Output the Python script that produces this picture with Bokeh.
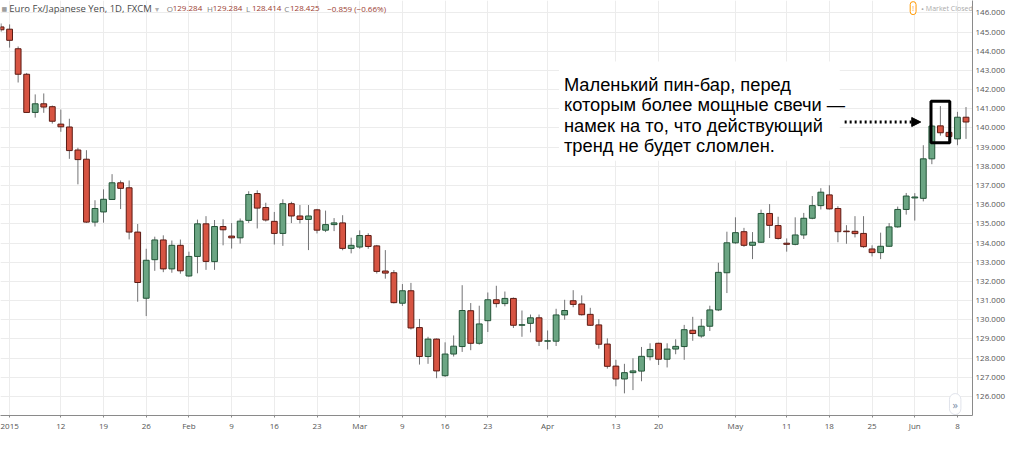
import pandas as pd
from bokeh.plotting import figure
from bokeh.models import (Range1d, FixedTicker, PrintfTickFormatter, Label, Arrow,
                          NormalHead, ColumnDataSource, BoxAnnotation)
from bokeh.embed import file_html
from bokeh.resources import INLINE

# ---------------- data (EUR/JPY daily, Dec 31 2014 .. Jun 9 2015) ----------------
opens = [145.27,
         145.15, 144.13, 142.80, 140.81, 141.26, 141.11, 140.20, 140.05, 138.85, 138.37,
         135.09, 135.62, 136.27, 137.14, 136.88, 134.57, 131.12, 133.13, 134.16, 132.65,
         133.88, 132.28, 133.30, 135.00, 133.03, 134.86, 134.36, 134.27, 135.18, 136.58,
         135.85, 135.13, 134.50, 136.05, 135.41, 135.23, 135.73, 134.67, 134.96, 135.05,
         133.72, 133.79, 134.39, 133.85, 132.54, 132.45, 130.86, 131.51, 129.59, 128.08,
         128.99, 127.08, 128.21, 128.60, 130.47, 128.77, 129.95, 131.04, 130.84, 131.11,
         129.71, 129.81, 130.10, 128.88, 128.88, 130.25, 130.99, 130.82, 130.28, 129.73,
         128.73, 127.58, 126.91, 127.24, 127.32, 128.07, 128.77, 127.94, 128.47, 128.60,
         129.45, 129.15, 129.66, 130.51, 132.45, 134.01, 134.59, 133.88, 134.04, 135.54,
         134.91, 133.99, 133.93, 134.42, 135.29, 135.95, 136.51, 135.80, 134.62, 134.61,
         134.50, 133.69, 133.50, 133.83, 134.84, 135.75, 136.35, 136.33, 138.39, 140.11,
         139.77, 139.43, 140.56]
highs = [145.45,
         145.40, 144.25, 142.87, 141.75, 141.80, 141.17, 140.96, 140.48, 138.97, 138.84,
         136.23, 136.80, 137.59, 137.26, 137.26, 134.99, 133.70, 134.33, 134.40, 134.13,
         134.18, 133.55, 135.22, 135.40, 135.20, 135.24, 135.04, 135.28, 136.70, 136.75,
         136.10, 135.62, 136.28, 136.15, 135.98, 135.98, 135.78, 135.69, 135.30, 135.45,
         134.28, 134.66, 134.51, 133.90, 133.63, 132.59, 131.86, 131.92, 130.04, 129.11,
         129.02, 128.82, 129.18, 131.80, 130.87, 130.73, 131.42, 131.77, 131.47, 131.16,
         130.48, 130.27, 130.27, 129.44, 130.57, 131.04, 131.54, 131.27, 130.62, 130.03,
         129.03, 127.91, 127.70, 127.99, 128.58, 128.77, 128.80, 128.77, 128.98, 129.73,
         130.15, 130.04, 130.73, 132.97, 134.59, 135.34, 134.79, 134.57, 135.74, 136.03,
         135.37, 134.24, 135.34, 135.57, 136.45, 136.86, 137.01, 135.92, 134.93, 135.40,
         135.40, 133.88, 134.54, 135.04, 135.90, 136.61, 136.60, 139.10, 140.18, 141.14,
         139.80, 140.84, 141.09]
lows = [145.02,
        144.19, 142.37, 140.80, 140.54, 140.79, 140.23, 139.80, 138.39, 137.06, 135.05,
        134.86, 135.06, 136.25, 135.77, 134.19, 130.94, 130.19, 132.55, 132.48, 132.45,
        132.40, 132.24, 132.42, 132.60, 132.60, 133.88, 133.71, 133.97, 135.05, 134.76,
        135.12, 133.92, 133.85, 135.04, 135.02, 133.63, 134.50, 134.57, 134.62, 133.62,
        133.46, 133.70, 133.70, 132.41, 132.14, 130.85, 130.72, 129.49, 127.66, 127.70,
        126.95, 127.02, 128.08, 128.32, 128.41, 128.70, 129.36, 130.64, 130.70, 129.57,
        129.11, 129.34, 128.63, 128.45, 128.63, 130.00, 130.65, 130.22, 129.68, 128.49,
        127.45, 126.53, 126.16, 126.33, 126.79, 127.88, 127.64, 127.51, 128.20, 127.91,
        128.90, 129.06, 129.41, 130.45, 131.39, 133.96, 133.80, 133.16, 134.00, 134.26,
        134.18, 133.55, 133.88, 134.21, 135.24, 135.75, 135.75, 134.04, 133.96, 134.29,
        133.75, 133.30, 133.16, 133.80, 134.80, 135.48, 135.17, 136.17, 138.11, 139.60,
        139.27, 139.10, 139.43]
closes = [145.12,
          144.57, 142.80, 140.81, 141.26, 141.09, 140.35, 140.06, 138.82, 138.35, 135.09,
          135.80, 136.28, 137.14, 136.85, 134.57, 131.94, 133.10, 134.16, 132.65, 133.88,
          132.55, 133.30, 135.00, 133.04, 134.86, 134.69, 134.27, 135.14, 136.53, 135.82,
          135.20, 134.50, 136.05, 135.41, 135.23, 135.41, 134.67, 134.96, 135.05, 133.72,
          133.88, 134.39, 133.82, 132.52, 132.43, 130.89, 131.51, 129.57, 128.08, 128.99,
          127.33, 128.21, 128.62, 130.48, 128.77, 129.78, 131.04, 130.84, 131.11, 129.71,
          129.74, 130.10, 128.88, 128.90, 130.25, 130.48, 130.80, 130.26, 129.71, 128.72,
          127.57, 126.91, 127.24, 127.33, 128.09, 128.45, 127.94, 128.47, 128.61, 129.48,
          129.28, 129.66, 130.51, 132.47, 134.01, 134.54, 133.88, 134.04, 135.54, 134.92,
          134.24, 133.93, 134.42, 135.29, 135.95, 136.65, 135.78, 134.59, 134.59, 134.49,
          133.81, 133.50, 133.83, 134.84, 135.75, 136.45, 136.40, 138.39, 140.10, 139.75,
          139.55, 140.56, 140.31]

tick_dates = ["2015-01-02", "2015-01-12", "2015-01-19", "2015-01-26", "2015-02-02",
              "2015-02-09", "2015-02-16", "2015-02-23", "2015-03-02", "2015-03-09",
              "2015-03-16", "2015-03-23", "2015-04-01", "2015-04-13", "2015-04-20",
              "2015-05-01", "2015-05-11", "2015-05-18", "2015-05-25", "2015-06-01",
              "2015-06-08"]
tick_labels = ["2015", "12", "19", "26", "Feb", "9", "16", "23", "Mar", "9", "16", "23",
               "Apr", "13", "20", "May", "11", "18", "25", "Jun", "8"]
price_ticks = list(range(126, 147))

header_name = "Euro Fx/Japanese Yen, 1D, FXCM"
header_ohlc = [("O", "129.284"), ("H", "129.284"), ("L", "128.414"), ("C", "128.425")]
header_change = "−0.859 (−0.66%)"

annotation_lines = ["Маленький пин-бар, перед",
                    "которым более мощные свечи —",
                    "намек на то, что действующий",
                    "тренд не будет сломлен."]
pin_bar_date = "2015-06-04"

# ---------------- trading-day positions ----------------
days = [d for d in pd.bdate_range("2014-12-31", "2015-06-09") if d != pd.Timestamp("2015-01-01")]
pos_of = {d.strftime("%Y-%m-%d"): i - 1 for i, d in enumerate(days)}
xs = [pos_of[d.strftime("%Y-%m-%d")] for d in days]
assert len(xs) == len(opens) == len(highs) == len(lows) == len(closes)

up = [c >= o for o, c in zip(opens, closes)]
src = ColumnDataSource(dict(
    x=xs, h=highs, l=lows,
    top=[max(o, c) for o, c in zip(opens, closes)],
    bottom=[min(o, c) for o, c in zip(opens, closes)],
    fill=["#6ba583" if u else "#d75442" for u in up],
    line=["#225437" if u else "#5b1a13" for u in up],
))

# reference-picture calibration (1024x449 picture), used to place the layout
def rx(px):
    return (px - 9.3) / 8.73

def ry(py):
    return 146 - (py - 13) / 20.1

AXIS_X = 993.7   # right price axis line in the reference
AXIS_Y = 435.0   # bottom time axis line in the reference

p = figure(width=1008, height=433, x_range=Range1d(rx(0), rx(AXIS_X)),
           y_range=Range1d(ry(AXIS_Y), ry(0)), y_axis_location="right",
           output_backend="svg", toolbar_location=None,
           min_border_left=0, min_border_top=0, min_border_right=0, min_border_bottom=0)
p.outline_line_color = None
p.background_fill_color = "white"
p.xgrid.grid_line_color = "#ececec"
p.ygrid.grid_line_color = "#ececec"

p.segment(x0="x", y0="h", x1="x", y1="l", source=src, line_color="#737375", line_width=1)
p.vbar(x="x", width=0.68, top="top", bottom="bottom", fill_color="fill",
       line_color="line", line_width=1, source=src)

# axes
ticks = [pos_of[d] for d in tick_dates]
yax = p.yaxis[0]
xax = p.xaxis[0]
yax.ticker = FixedTicker(ticks=price_ticks)
yax.formatter = PrintfTickFormatter(format="%.3f")
xax.ticker = FixedTicker(ticks=ticks)
xax.major_label_overrides = {t: lab for t, lab in zip(ticks, tick_labels)}
for ax in (xax, yax):
    ax.axis_line_color = "#8a8a8a"
    ax.major_tick_line_color = "#8a8a8a"
    ax.major_tick_in = 0
    ax.minor_tick_line_color = None
    ax.major_label_text_font_size = "8px"
    ax.major_label_text_color = "#555555"
    ax.major_label_text_font = "Open Sans"
xax.major_tick_out = 2
xax.major_label_standoff = 2
yax.major_tick_out = 0
yax.major_label_standoff = 3

# header
hdr_y = ry(8)
def hdr(px, text, color, size="9.5px"):
    p.add_layout(Label(x=rx(px), y=hdr_y, text=text, text_color=color, text_font="Open Sans",
                       text_font_size=size, text_baseline="middle"))

p.add_layout(Label(x=rx(4), y=hdr_y, text="■", text_color="#9e9e9e", text_font="DejaVu Sans",
                   text_font_size="6px", text_baseline="middle", text_align="center"))
hdr(9, header_name, "#4a4a4a")
hdr(158, "▾", "#b0b0b0", "8px")
for px, (letter, num) in zip([170, 211, 251, 290], header_ohlc):
    hdr(px, letter, "#808080", "8px")
    hdr(px + 6, num, "#9b3d30", "8px")
hdr(334, header_change, "#9b3d30", "8px")
p.add_layout(Label(x=rx(933), y=hdr_y, text="!", text_color="#ff9800", text_font="Open Sans",
                   text_font_size="7px", text_align="center", text_baseline="middle",
                   border_line_color="#ff9800", border_radius=6, padding=2,
                   background_fill_color="white"))
hdr(941, "•", "#aaaaaa", "8px")
hdr(946, "Market Closed", "#aaaaaa", "7px")

# annotation box (white) and text
p.add_layout(BoxAnnotation(left=rx(571), right=rx(858), top=ry(64), bottom=ry(168),
                           fill_color="white", fill_alpha=1.0, line_color=None))
for k, line in enumerate(annotation_lines):
    p.add_layout(Label(x=rx(576), y=ry(88.3 + 21.1 * k), text=line, text_color="black",
                       text_font="Liberation Sans", text_font_size="18.3px",
                       text_baseline="alphabetic"))

# rectangle around the pin bar
pin = pos_of[pin_bar_date]
k = xs.index(pin)
box_top = highs[k] + 0.25
box_bot = lows[k] - 0.37
p.add_layout(BoxAnnotation(left=pin - 1.1, right=pin + 1.1, top=box_top, bottom=box_bot,
                           fill_alpha=0, line_color="black", line_alpha=1.0, line_width=3))
mid = (box_top + box_bot) / 2
p.add_layout(Arrow(end=NormalHead(size=9, fill_color="black", line_color="black"),
                   x_start=rx(863), y_start=mid, x_end=pin - 2.3, y_end=mid,
                   line_color="black", line_width=3, line_dash="2 3"))

# scroll button bottom-right
p.add_layout(Label(x=rx(976), y=ry(423), text="»", text_color="#7d8ea8", text_font="Open Sans",
                   text_font_size="11px", text_align="center", text_baseline="middle",
                   border_line_color="#e0e3eb", border_radius=8, padding=3,
                   background_fill_color="white"))

open("out.html", "w").write(file_html(p, INLINE))
